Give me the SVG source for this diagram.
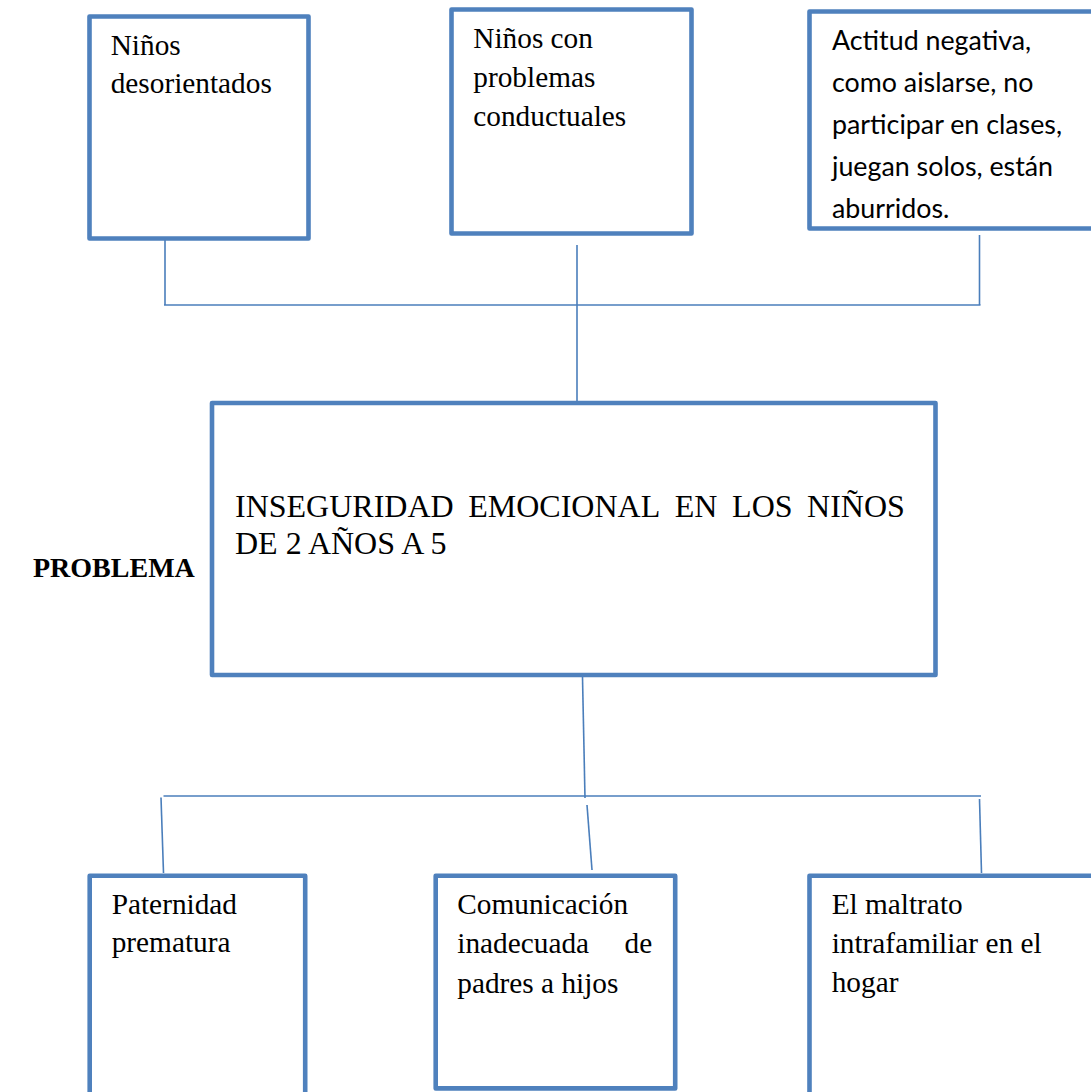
<svg xmlns="http://www.w3.org/2000/svg" width="1091" height="1092" viewBox="0 0 1091 1092">
<style>
.box{fill:#ffffff;stroke:#4F81BD;stroke-width:4.6;stroke-linejoin:round}
.con{fill:none;stroke:#4A7EBB;stroke-width:1.6}
.t{font-family:"Liberation Serif","Times New Roman",serif;font-size:29.3px;fill:#000}
.c{font-family:Lato,"Open Sans",sans-serif;font-size:26.8px;fill:#000}
.big{font-family:"Liberation Serif","Times New Roman",serif;font-size:32px;fill:#000}
.b{font-family:"Liberation Serif","Times New Roman",serif;font-size:28px;font-weight:bold;fill:#000}
</style>
<rect width="1091" height="1092" fill="#ffffff"/>
<g id="connectors">
<line class="con" x1="165" y1="240" x2="165" y2="305"/>
<line class="con" x1="979.5" y1="235" x2="979.5" y2="305"/>
<line class="con" x1="164" y1="305" x2="980.5" y2="305"/>
<line class="con" x1="577" y1="245" x2="577" y2="401"/>
<line class="con" x1="582.5" y1="677" x2="585" y2="798"/>
<line class="con" x1="163.5" y1="796" x2="981" y2="796"/>
<line class="con" x1="161" y1="797.5" x2="163.5" y2="873"/>
<line class="con" x1="587" y1="805" x2="592" y2="870"/>
<line class="con" x1="979.5" y1="799" x2="981.5" y2="873"/>
</g>
<g id="node-ninos-desorientados">
<rect class="box" x="89.5" y="16.5" width="219" height="222"/>
<text class="t" x="110.7" y="55">Niños</text>
<text class="t" x="110.7" y="92.7">desorientados</text>
</g>
<g id="node-problemas-conductuales">
<rect class="box" x="451.5" y="9.5" width="240" height="224"/>
<text class="t" x="473.3" y="48.3">Niños con</text>
<text class="t" x="473.3" y="87.2">problemas</text>
<text class="t" x="473.3" y="126">conductuales</text>
</g>
<g id="node-actitud-negativa">
<rect class="box" x="809.5" y="11.5" width="320" height="217"/>
<text class="c" x="832" y="49.5">Actitud negativa,</text>
<text class="c" x="832" y="91.5">como aislarse, no</text>
<text class="c" x="832" y="133.5">participar en clases,</text>
<text class="c" x="832" y="175.5">juegan solos, están</text>
<text class="c" x="832" y="217.5">aburridos.</text>
</g>
<g id="node-problema">
<rect class="box" x="212" y="403" width="723.5" height="272"/>
<text class="big" y="517"><tspan x="235">INSEGURIDAD</tspan><tspan x="468.2">EMOCIONAL</tspan><tspan x="674.8">EN</tspan><tspan x="732.1">LOS</tspan><tspan x="807.1">NIÑOS</tspan></text>
<text class="big" x="235" y="554">DE 2 AÑOS A 5</text>
</g>
<g id="label-problema">
<text class="b" x="33" y="577">PROBLEMA</text>
</g>
<g id="node-paternidad">
<rect class="box" x="89.7" y="875.7" width="215.5" height="300"/>
<text class="t" x="111.7" y="914">Paternidad</text>
<text class="t" x="111.7" y="951.7">prematura</text>
</g>
<g id="node-comunicacion">
<rect class="box" x="435.7" y="875.7" width="239.5" height="212.7"/>
<text class="t" x="457.3" y="914">Comunicación</text>
<text class="t" y="953.3"><tspan x="457.3">inadecuada</tspan><tspan x="624.6">de</tspan></text>
<text class="t" x="457.3" y="992.7">padres a hijos</text>
</g>
<g id="node-maltrato">
<rect class="box" x="809.5" y="875.7" width="320" height="300"/>
<text class="t" x="831.7" y="914">El maltrato</text>
<text class="t" x="831.7" y="953.3">intrafamiliar en el</text>
<text class="t" x="831.7" y="991.7">hogar</text>
</g>
</svg>
